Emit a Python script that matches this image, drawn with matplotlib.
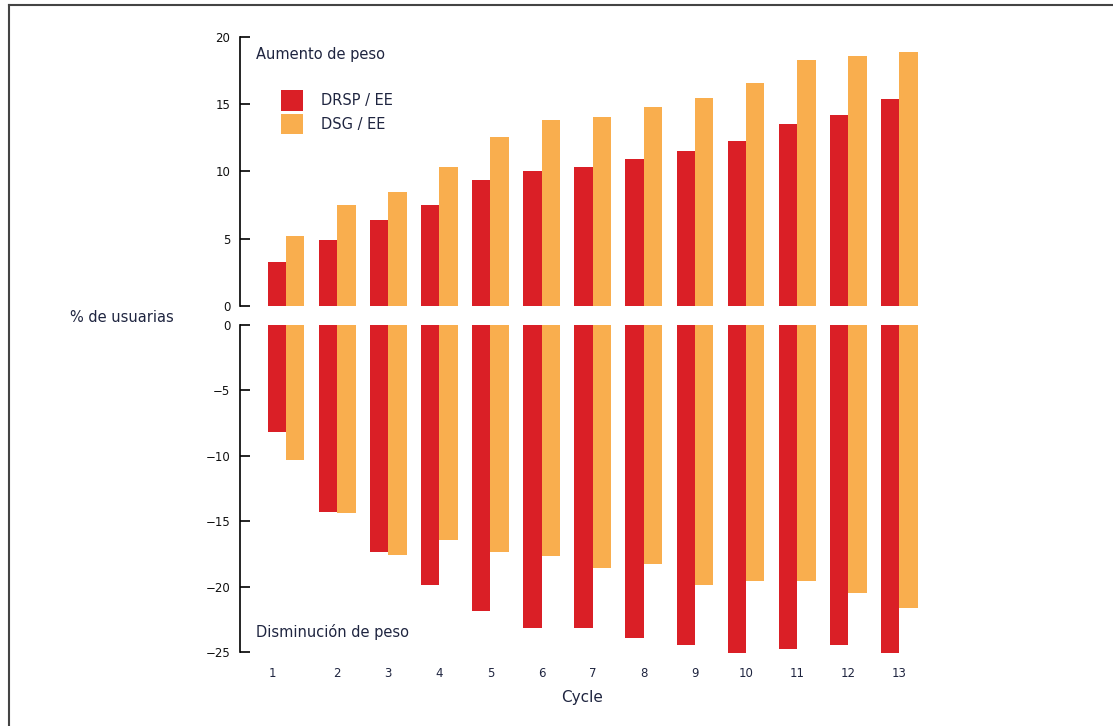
import numpy as np
from matplotlib import pyplot as plt
from matplotlib.lines import Line2D

cycles = list(range(1, 14))
cycle_labels = [str(c) for c in cycles]

aumento_drsp = [3.3, 4.9, 6.4, 7.5, 9.4, 10.0, 10.3, 10.9, 11.5, 12.3, 13.5, 14.2, 15.4]
aumento_dsg = [5.2, 7.5, 8.5, 10.3, 12.6, 13.8, 14.05, 14.8, 15.5, 16.6, 18.3, 18.6, 18.9]
disminucion_drsp = [-8.2, -14.3, -17.35, -19.9, -21.9, -23.2, -23.2, -23.9, -24.5, -25.1, -24.8, -24.5, -25.1]
disminucion_dsg = [-10.3, -14.4, -17.6, -16.4, -17.35, -17.65, -18.6, -18.3, -19.9, -19.6, -19.6, -20.5, -21.6]

red = '#DA1F26'
orange = '#F9AE4E'
txt = '#1f2540'

W, H = 1113, 726
fig = plt.figure(figsize=(W / 100, H / 100), dpi=100)

# marco de la figura (solo se ven arriba e izquierda)
fx, fy = 8.5 / W, 1 - 5 / H
fig.add_artist(Line2D([fx, 1.0], [fy, fy], transform=fig.transFigure, color='#444444', lw=1.5))
fig.add_artist(Line2D([fx, fx], [0.0, fy], transform=fig.transFigure, color='#444444', lw=1.5))

left = 240 / W
width = (925 - 240) / W
ax_top = fig.add_axes([left, 1 - 306 / H, width, (306 - 37) / H])
ax_bot = fig.add_axes([left, 1 - 652 / H, width, (652 - 325) / H])

x = np.array(cycles)
bw = 0.36

ax_top.bar(x - bw / 2, aumento_drsp, bw, color=red, label='DRSP / EE')
ax_top.bar(x + bw / 2, aumento_dsg, bw, color=orange, label='DSG / EE')
ax_bot.bar(x - bw / 2, disminucion_drsp, bw, color=red, clip_on=False)
ax_bot.bar(x + bw / 2, disminucion_dsg, bw, color=orange, clip_on=False)

ax_top.set_ylim(0, 20)
ax_top.set_yticks([0, 5, 10, 15, 20])
ax_bot.set_ylim(-25, 0)
ax_bot.set_yticks([0, -5, -10, -15, -20, -25])
ax_bot.set_yticklabels(['0', '\u22125', '\u221210', '\u221215', '\u221220', '\u221225'])

for ax in (ax_top, ax_bot):
    ax.set_xlim(0.1, 13.5)
    for s in ('top', 'right', 'bottom'):
        ax.spines[s].set_visible(False)
    ax.spines['left'].set_linewidth(1.2)
    ax.tick_params(axis='y', direction='in', length=7, width=1.2, labelsize=8.5,
                   pad=7, labelcolor='#111111')

ax_top.set_xticks([])
# la etiqueta del ciclo 1 aparece algo desplazada a la izquierda en el original
tick_pos = x.astype(float)
tick_pos[0] -= 0.26
ax_bot.set_xticks(tick_pos)
ax_bot.set_xticklabels(cycle_labels)
ax_bot.tick_params(axis='x', length=0, pad=11, labelsize=8.5, labelcolor=txt)
ax_bot.set_xlabel('Cycle', fontsize=11, color=txt, labelpad=7)

ax_top.text(0.023, 0.935, 'Aumento de peso', transform=ax_top.transAxes,
            fontsize=10.5, color=txt, va='center')
ax_bot.text(0.023, 0.06, 'Disminuci\u00f3n de peso', transform=ax_bot.transAxes,
            fontsize=10.5, color=txt, va='center')

ax_top.legend(loc='upper left', bbox_to_anchor=(0.04, 0.85), frameon=False,
              fontsize=10.5, labelcolor=txt, handlelength=1.55, handleheight=1.75,
              handletextpad=1.2, labelspacing=0.25)

fig.text(70 / W, 1 - 318 / H, '% de usuarias', fontsize=10.5, color=txt, va='center')

fig.savefig('out.png', dpi=100)
